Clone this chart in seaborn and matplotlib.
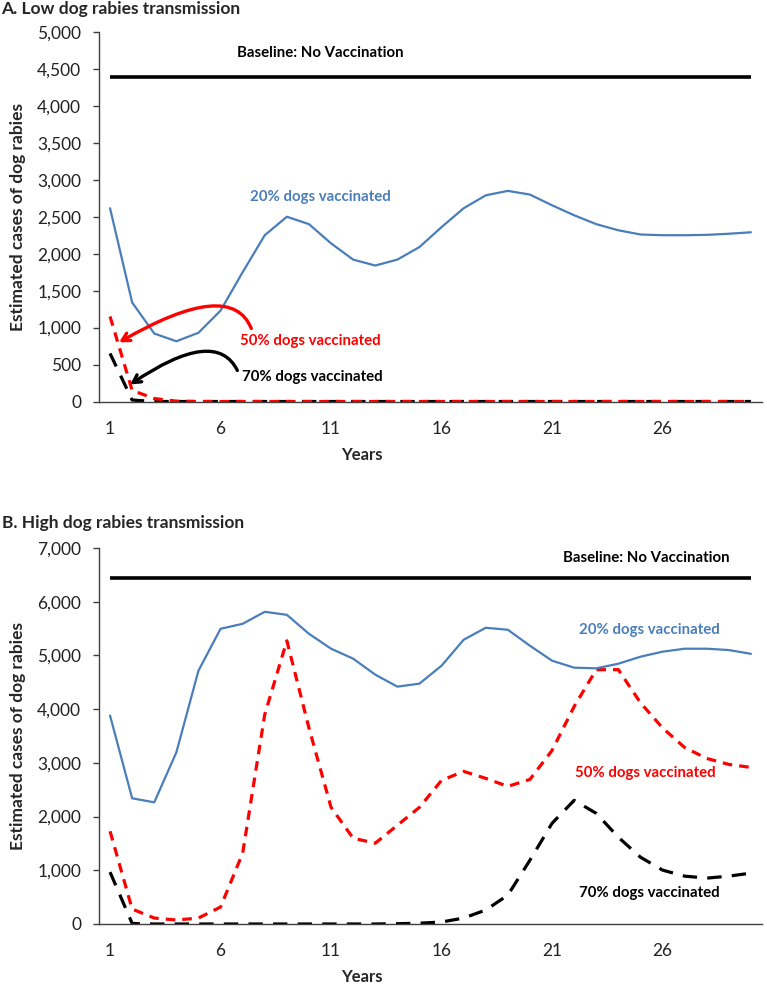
import matplotlib
matplotlib.use("Agg")
import matplotlib.pyplot as plt
from matplotlib.ticker import StrMethodFormatter, FixedLocator
import seaborn as sns
import pandas as pd

# years of simulation
years = [1, 2, 3, 4, 5, 6, 7, 8, 9, 10, 11, 12, 13, 14, 15,
         16, 17, 18, 19, 20, 21, 22, 23, 24, 25, 26, 27, 28, 29, 30]
year_labels = [1, 6, 11, 16, 21, 26]

# A. low transmission
baseline_a = 4390
vacc20_a = [2615, 1340, 920, 815, 930, 1230, 1750, 2250, 2500, 2400, 2140, 1920, 1840, 1920, 2090,
            2360, 2615, 2790, 2850, 2800, 2655, 2520, 2400, 2317, 2260, 2250, 2250, 2255, 2270, 2290]
vacc50_a = [1150, 150, 40, 5, 0, 0, 0, 0, 0, 0, 0, 0, 0, 0, 0,
            0, 0, 0, 0, 0, 0, 0, 0, 0, 0, 0, 0, 0, 0, 0]
vacc70_a = [650, 20, 0, 0, 0, 0, 0, 0, 0, 0, 0, 0, 0, 0, 0,
            0, 0, 0, 0, 0, 0, 0, 0, 0, 0, 0, 0, 0, 0, 0]

# B. high transmission
baseline_b = 6443
vacc20_b = [3880, 2340, 2265, 3195, 4716, 5496, 5589, 5812, 5756, 5403, 5125, 4940, 4642, 4419, 4475,
            4809, 5292, 5515, 5478, 5180, 4902, 4772, 4760, 4846, 4976, 5070, 5125, 5125, 5100, 5030]
vacc50_b = [1727, 278, 111, 74, 111, 316, 1318, 3900, 5273, 3650, 2172, 1597, 1504, 1838, 2172,
            2674, 2841, 2711, 2562, 2692, 3231, 4050, 4735, 4735, 4120, 3650, 3286, 3082, 2971, 2915]
vacc70_b = [966, 10, 0, 0, 0, 0, 0, 0, 0, 0, 0, 0, 0, 5, 15,
            37, 111, 260, 538, 1188, 1875, 2302, 2060, 1615, 1244, 1003, 891, 854, 891, 947]

BLUE = "#4a7ebb"
RED = "#ff0000"
INK = "#000000"
AXIS = "#404040"

sns.set_style("white")
plt.rcParams["font.family"] = ["Lato", "DejaVu Sans"]
plt.rcParams["xtick.major.pad"] = 13.7
plt.rcParams["ytick.major.pad"] = 8.5

fig = plt.figure(figsize=(7.67, 9.85), dpi=100)
ax_a = fig.add_axes([99 / 767, 1 - 401.5 / 985, 663 / 767, 369.5 / 985])
ax_b = fig.add_axes([99 / 767, 1 - 924 / 985, 663 / 767, 376 / 985])


def draw_panel(ax, baseline, v20, v50, v70, ymax, ystep):
    df = pd.DataFrame({"year": years, "v20": v20, "v50": v50, "v70": v70})
    ax.hlines(baseline, years[0], years[-1], color=INK, lw=2.6)
    sns.lineplot(data=df, x="year", y="v70", ax=ax, color=INK, lw=2.3,
                 linestyle=(0, (4.5, 3.2)), legend=False)
    sns.lineplot(data=df, x="year", y="v50", ax=ax, color=RED, lw=2.3,
                 linestyle=(0, (3, 2.2)), legend=False)
    sns.lineplot(data=df, x="year", y="v20", ax=ax, color=BLUE, lw=1.6, legend=False)

    ax.set_xlim(0.5, 30.5)
    ax.set_ylim(0, ymax)
    ax.set_yticks(range(0, ymax + 1, ystep))
    ax.yaxis.set_major_formatter(StrMethodFormatter("{x:,.0f}"))
    ax.set_xticks(year_labels)
    ax.xaxis.set_minor_locator(FixedLocator([y - 0.5 for y in years] + [30.5]))
    ax.tick_params(axis="x", which="minor", length=4.3, width=1, color=AXIS, direction="out")
    ax.tick_params(axis="x", which="major", length=0, labelsize=12.5, labelcolor="#222222")
    ax.tick_params(axis="y", which="major", length=4.3, width=1, color=AXIS, direction="out",
                   labelsize=12.5, labelcolor="#222222", left=True)
    for s in ["top", "right"]:
        ax.spines[s].set_visible(False)
    for s in ["left", "bottom"]:
        ax.spines[s].set_color(AXIS)
        ax.spines[s].set_linewidth(1)
    ax.set_xlabel("Years", fontsize=12, fontweight="bold", labelpad=7.5)
    ax.xaxis.label.set_x(0.397)
    ax.set_ylabel("Estimated cases of dog rabies", fontsize=12.5, fontweight="bold", labelpad=8)
    ax.patch.set_alpha(0)


draw_panel(ax_a, baseline_a, vacc20_a, vacc50_a, vacc70_a, 5000, 500)
draw_panel(ax_b, baseline_b, vacc20_b, vacc50_b, vacc70_b, 7000, 1000)

lab = dict(fontsize=10.8, fontweight="bold")
ax_a.text(10.5, 4715, "Baseline: No Vaccination", color=INK, ha="center", va="center", **lab)
ax_a.text(10.5, 2764, "20% dogs vaccinated", color=BLUE, ha="center", va="center", **lab)
ax_a.text(6.9, 813, "50% dogs vaccinated", color=RED, ha="left", va="center", **lab)
ax_a.text(6.98, 325, "70% dogs vaccinated", color=INK, ha="left", va="center", **lab)

ax_a.annotate("", xy=(1.41, 800), xytext=(7.39, 989),
              arrowprops=dict(arrowstyle="->,head_length=0.55,head_width=0.3", color=RED, lw=2.4,
                              shrinkA=0, shrinkB=0,
                              connectionstyle="angle3,angleA=112,angleB=30"))
ax_a.annotate("", xy=(1.91, 230), xytext=(6.76, 420),
              arrowprops=dict(arrowstyle="->,head_length=0.55,head_width=0.3", color=INK, lw=2.4,
                              shrinkA=0, shrinkB=0,
                              connectionstyle="angle3,angleA=116,angleB=34"))

ax_b.text(25.25, 6814, "Baseline: No Vaccination", color=INK, ha="center", va="center", **lab)
ax_b.text(25.4, 5478, "20% dogs vaccinated", color=BLUE, ha="center", va="center", **lab)
ax_b.text(25.2, 2804, "50% dogs vaccinated", color=RED, ha="center", va="center", **lab)
ax_b.text(25.4, 576, "70% dogs vaccinated", color=INK, ha="center", va="center", **lab)

fig.text(0.002, 1 - 9 / 985, "A. Low dog rabies transmission", fontsize=12.5, fontweight="bold",
         ha="left", va="center")
fig.text(0.002, 1 - 523 / 985, "B. High dog rabies transmission", fontsize=12.5, fontweight="bold",
         ha="left", va="center")

fig.savefig("out.png", dpi=100)
